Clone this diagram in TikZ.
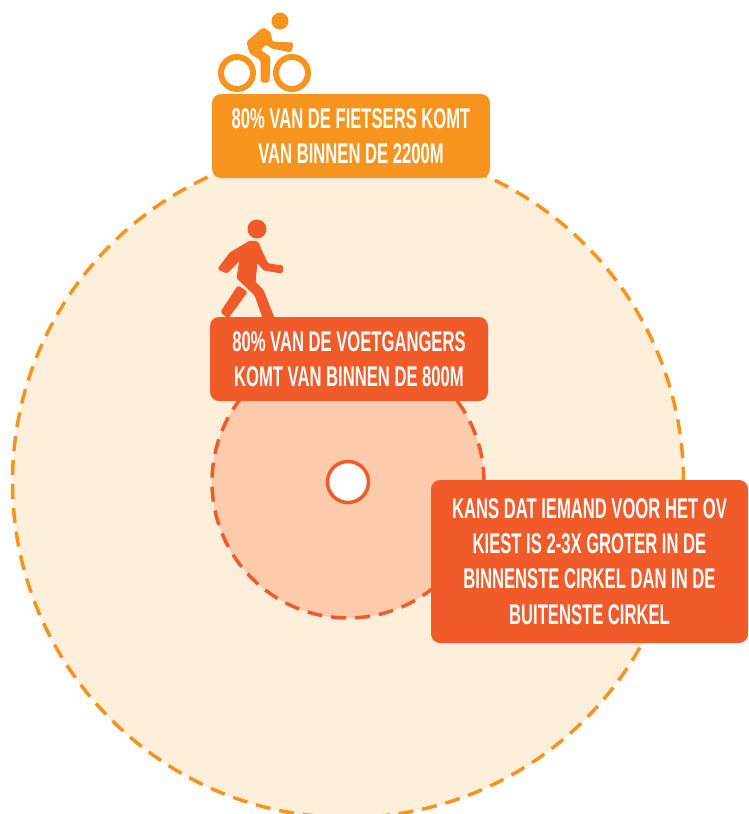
\documentclass[tikz,border=0pt]{standalone}
\usepackage{fontspec}
\setmainfont[FakeStretch=0.583]{Liberation Sans}
\usepackage{tikz}
\usetikzlibrary{positioning}
\definecolor{fietsoranje}{HTML}{F7941E}
\definecolor{voetrood}{HTML}{F15A29}
\definecolor{buitenvlak}{HTML}{FEEFDB}
\definecolor{binnenvlak}{HTML}{FBCBAB}

\begin{document}
\begin{tikzpicture}[
  x=1pt, y=-1pt,
  box/.style={rounded corners=9pt, align=center, text=white, inner sep=0pt,
    font=\fontsize{28.5}{35.3}\selectfont\bfseries},
  ring/.style={circle, line width=3.5pt, inner sep=0pt, dash pattern=on 15pt off 9pt},
  icon/.style={line join=round, rounded corners=1.5pt, line width=1pt},
]
  \useasboundingbox (0,0) rectangle (748,814);
  % cirkels
  \node[ring, draw=fietsoranje, fill=buitenvlak, minimum size=671pt] (buiten) at (348,482) {};
  \node[ring, draw=voetrood, fill=binnenvlak, minimum size=272pt] (binnen) at (348,482) {};
  \node[circle, draw=voetrood, fill=white, line width=3.5pt, minimum size=41pt, inner sep=0pt] (halte) at (348,482) {};

  % fietser
  \fill[fietsoranje] (280,21) circle (8.5);
  \draw[fietsoranje, line width=6pt] (237,73) circle (16);
  \draw[fietsoranje, line width=6pt] (292,73) circle (16);
  \filldraw[fietsoranje, icon] (263,28) -- (270,32) -- (272,42) -- (293,43) -- (291,52) -- (272,48) -- (266,44)
    -- (260,50) -- (270,57) -- (269,82) -- (261,82) -- (261,60) -- (250,53) -- (247,42) -- cycle;

  % voetganger
  \fill[voetrood] (257,229) circle (9.5);
  \filldraw[voetrood, icon] (250,241) -- (258,242) -- (262,252) -- (268,264) -- (283,266) -- (282,273) -- (264,270)
    -- (257,262) -- (255,282) -- (263,290) -- (274,318) -- (263,318) -- (255,295) -- (237,278)
    -- (240,260) -- (227,273) -- (218,269) -- (230,253) -- cycle;
  \filldraw[voetrood, icon] (238,286) -- (247,292) -- (228,318) -- (221,312) -- cycle;

  % tekstvakken
  \node[box, fill=fietsoranje, minimum width=278pt, minimum height=84pt] (fiets) at (351,136)
    {80\% VAN DE FIETSERS KOMT\\VAN BINNEN DE 2200M};
  \node[box, fill=voetrood, minimum width=278pt, minimum height=84pt] (voet) at (349,359)
    {80\% VAN DE VOETGANGERS\\KOMT VAN BINNEN DE 800M};
  \node[box, fill=voetrood, minimum width=317pt, minimum height=163pt] (kans) at (589.5,561.5)
    {KANS DAT IEMAND VOOR HET OV\\KIEST IS 2-3X GROTER IN DE\\BINNENSTE CIRKEL DAN IN DE\\BUITENSTE CIRKEL};
\end{tikzpicture}
\end{document}
